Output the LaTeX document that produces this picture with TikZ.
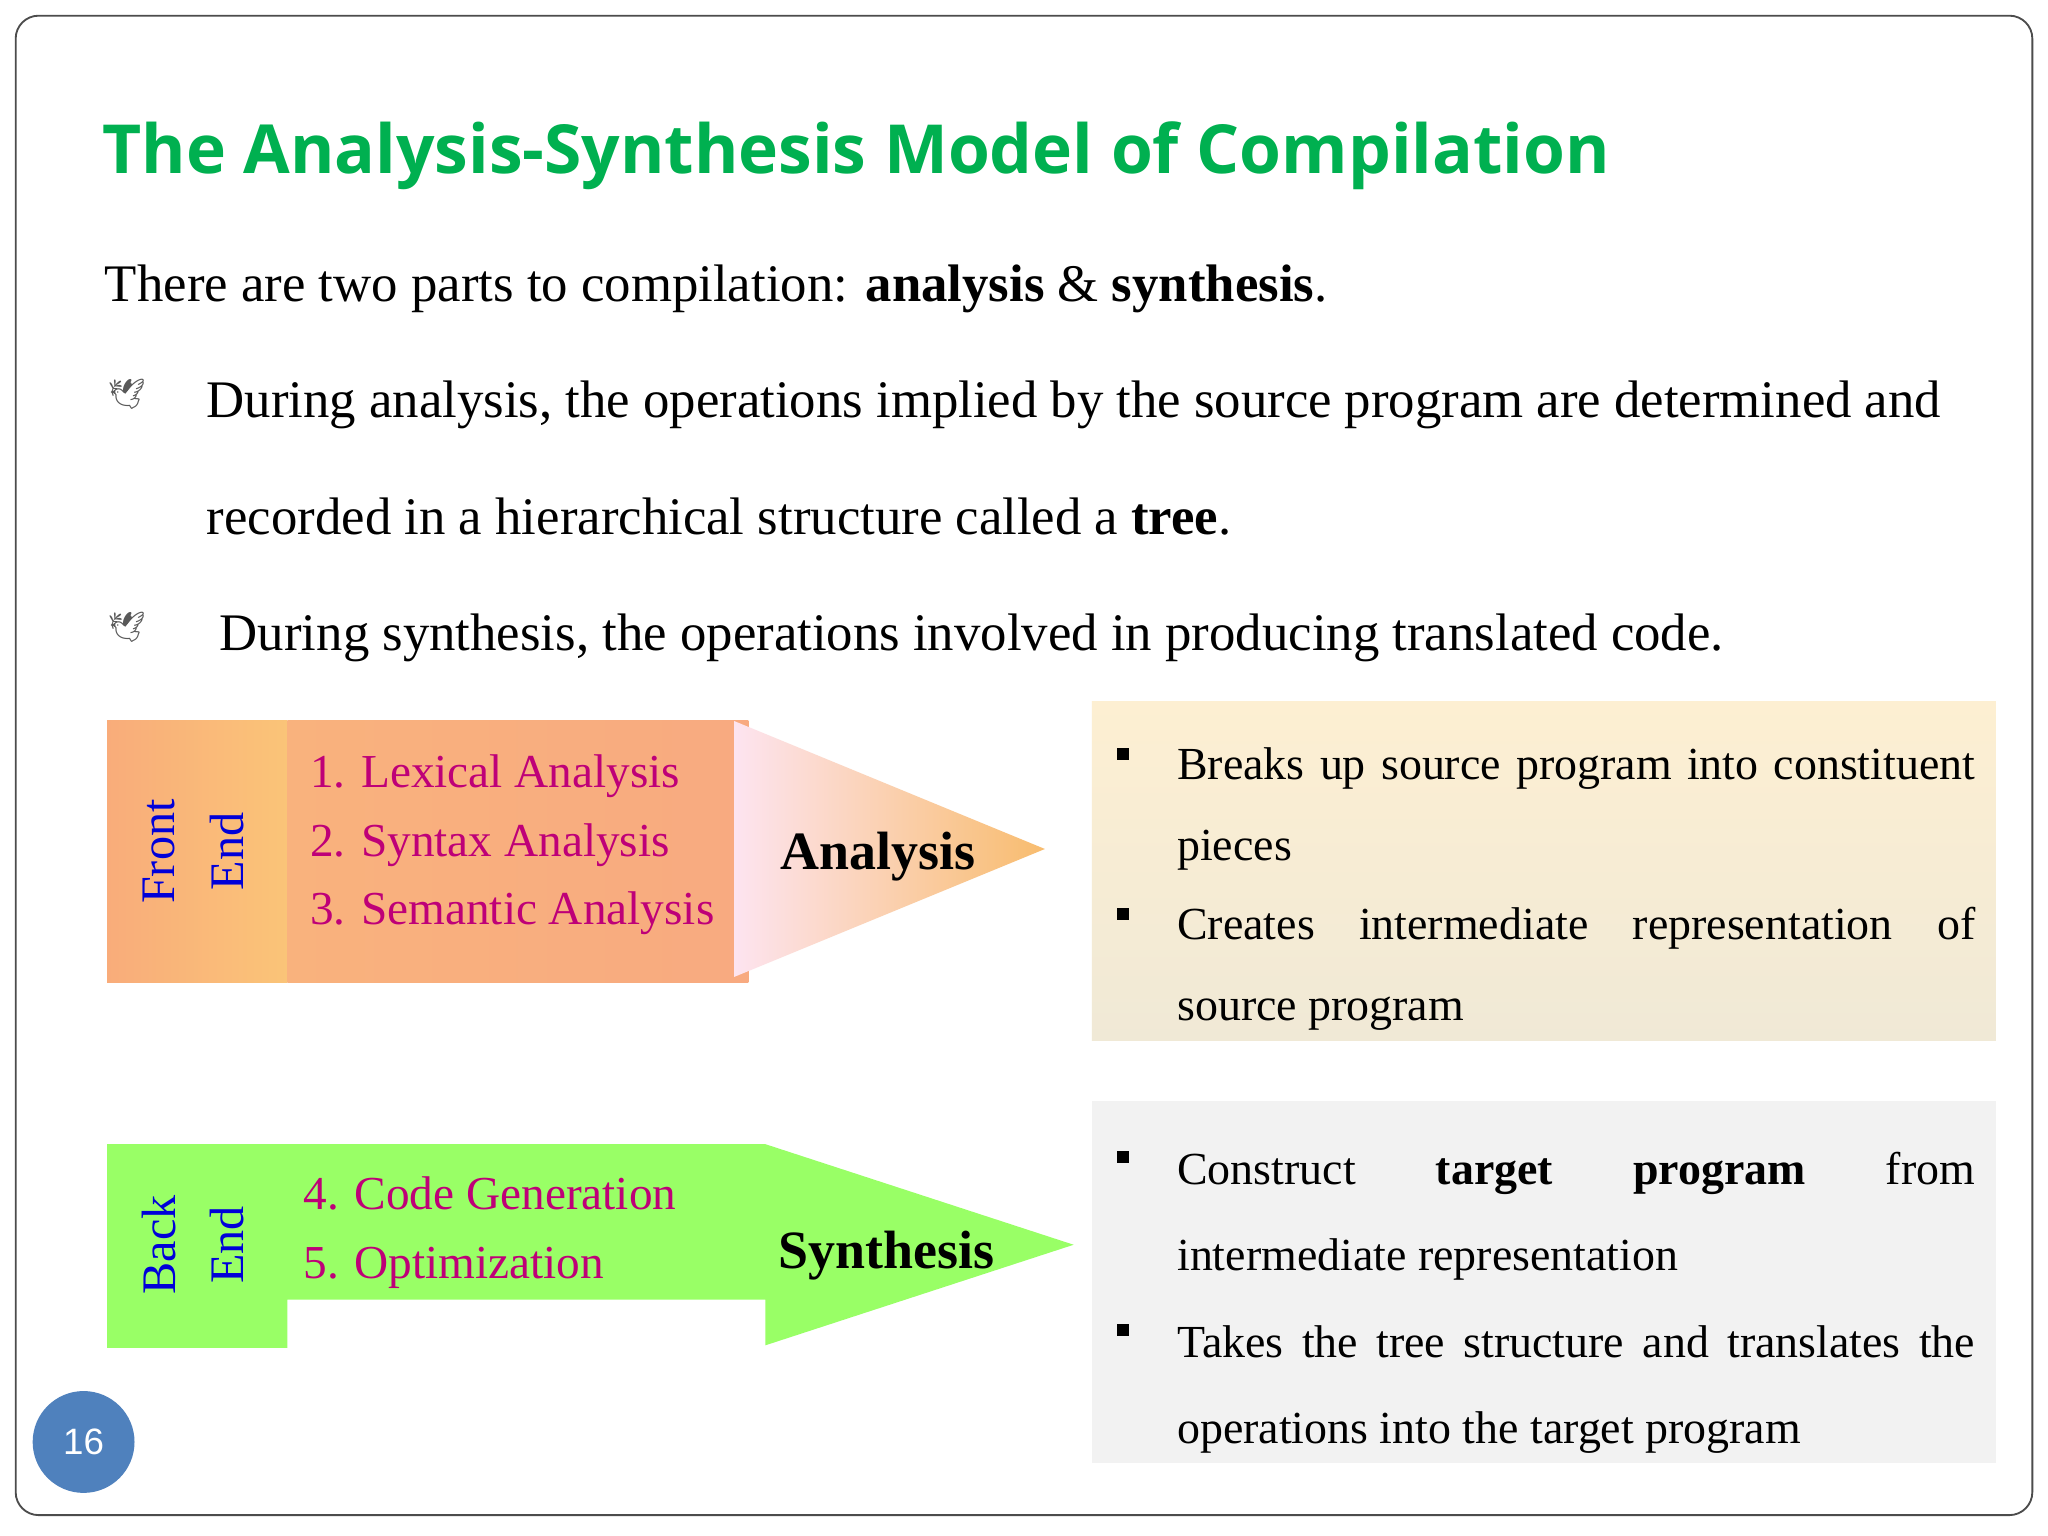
\documentclass[tikz,border=0pt]{standalone}
\usepackage{fontspec}
\setmainfont{Liberation Serif}
\newfontfamily\titlefont{Open Sans}
\newfontfamily\sansf{Liberation Sans}
\newfontfamily\emo{Noto Emoji}
\begin{document}
\begin{tikzpicture}[x=0.02cm,y=-0.02cm,
  body/.style={anchor=base west,inner sep=0,font=\fontsize{23}{27}\selectfont},
  box/.style={anchor=base west,inner sep=0,font=\fontsize{20}{24}\selectfont},
  item/.style={anchor=base west,inner sep=0,text=itemc,font=\fontsize{20.6}{24}\selectfont},
  vert/.style={rotate=90,text=blue!85!black,inner sep=0,font=\fontsize{21}{25}\selectfont},
  sq/.style={fill=black,minimum size=0.18cm,inner sep=0},
  dove/.style={text=gray!70!black,inner sep=0,font=\emo\fontsize{13}{15}\selectfont}]
\definecolor{titlec}{RGB}{0,176,80}
\definecolor{itemc}{RGB}{190,0,120}
\definecolor{greenc}{RGB}{153,255,102}
\definecolor{pagec}{RGB}{79,129,189}
\useasboundingbox (0,0) rectangle (1568,1176);
\fill[white] (0,0) rectangle (1568,1176);
\draw[rounded corners=10,line width=0.8pt,black!70] (12,12) rectangle (1556,1160);
\node[anchor=base west,inner sep=0,text=titlec,font=\titlefont\bfseries\fontsize{29.5}{34}\selectfont] (title) at (78,133) {The Analysis-Synthesis Model of Compilation};
\node[body] (l1) at (80,231) {There are two parts to compilation: \textbf{analysis} \& \textbf{synthesis}.};
\node[dove] (d1) at (97,302) {🕊};
\node[body] (l2) at (158,320) {\makebox[26.56cm][s]{During analysis, the operations implied by the source program are determined and}};
\node[body] (l3) at (158,409) {recorded in a hierarchical structure called a \textbf{tree}.};
\node[dove] (d2) at (97,480) {🕊};
\node[body] (l4) at (168,498) {During synthesis, the operations involved in producing translated code.};
% front end
\shade[left color={rgb,255:red,249;green,172;blue,122},right color={rgb,255:red,250;green,196;blue,120}] (82,552) rectangle (220,752);
\shade[left color={rgb,255:red,249;green,178;blue,125},right color={rgb,255:red,248;green,170;blue,128}] (220,552) rectangle (573,752);
\shade[left color={rgb,255:red,253;green,228;blue,240},right color={rgb,255:red,248;green,188;blue,110}] (562,552) -- (800,650) -- (562,748) -- cycle;
\node[vert] (fe1) at (122,652) {Front};
\node[vert] (fe2) at (174,652) {End};
\node[item] (i1) at (237,603) {1. Lexical Analysis};
\node[item] (i2) at (237,656) {2. Syntax Analysis};
\node[item] (i3) at (237,708) {3. Semantic Analysis};
\node[anchor=base,inner sep=0,font=\bfseries\fontsize{23.5}{28}\selectfont] (an) at (672,666) {Analysis};
\shade[top color={rgb,255:red,253;green,239;blue,210},bottom color={rgb,255:red,240;green,233;blue,214}] (836,537) rectangle (1528,797);
\node[sq] (s1) at (860,577) {};
\node[box] (b1) at (901,597) {\makebox[12.22cm][s]{Breaks up source program into constituent}};
\node[box] (b2) at (901,659) {pieces};
\node[sq] (s2) at (860,700) {};
\node[box] (b3) at (901,719) {\makebox[12.22cm][s]{Creates intermediate representation of}};
\node[box] (b4) at (901,781) {source program};
% back end
\fill[greenc] (82,876) -- (586,876) -- (822,953) -- (586,1030) -- (586,995) -- (220,995) -- (220,1032) -- (82,1032) -- cycle;
\node[vert] (be1) at (122,953) {Back};
\node[vert] (be2) at (174,953) {End};
\node[item] (i4) at (232,926) {4. Code Generation};
\node[item] (i5) at (232,979) {5. Optimization};
\node[anchor=base,inner sep=0,font=\bfseries\fontsize{23.5}{28}\selectfont] (sy) at (679,971) {Synthesis};
\fill[black!5] (836,843) rectangle (1528,1120);
\node[sq] (s3) at (860,886) {};
\node[box] (c1) at (901,907) {\makebox[12.22cm][s]{Construct \ \ \textbf{target} \ \ \textbf{program} \ \ from}};
\node[box] (c2) at (901,973) {intermediate representation};
\node[sq] (s4) at (860,1018) {};
\node[box] (c3) at (901,1039) {\makebox[12.22cm][s]{Takes the tree structure and translates the}};
\node[box] (c4) at (901,1105) {operations into the target program};
\node[circle,fill=pagec,minimum size=1.56cm,inner sep=0,text=white,font=\sansf\fontsize{16}{19}\selectfont] (pg) at (64,1104) {16};
\end{tikzpicture}
\end{document}
